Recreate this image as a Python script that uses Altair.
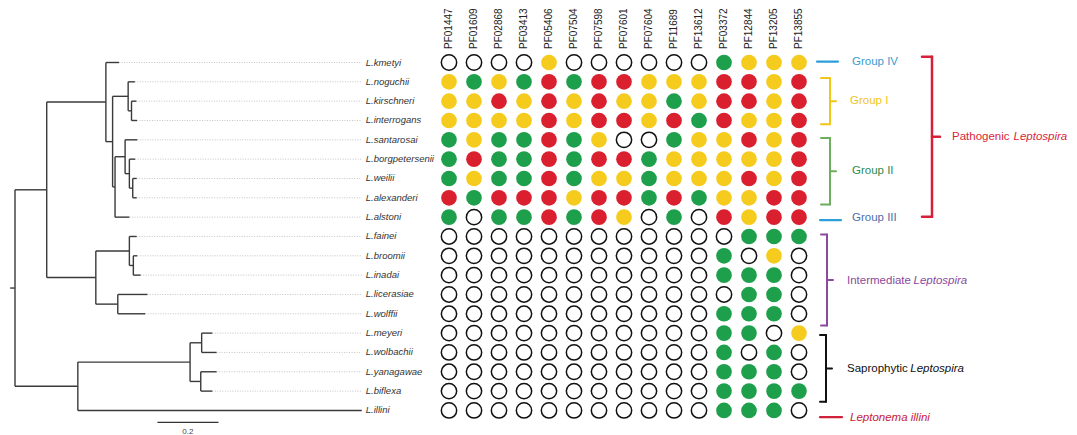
import altair as alt
import pandas as pd

# ---------------- data ----------------
PFAMS = ["PF01447", "PF01609", "PF02868", "PF03413", "PF05406", "PF07504",
         "PF07598", "PF07601", "PF07604", "PF11689", "PF13612", "PF03372",
         "PF12844", "PF13205", "PF13855"]

SPECIES = ["L.kmetyi", "L.noguchii", "L.kirschneri", "L.interrogans",
           "L.santarosai", "L.borgpetersenii", "L.weilii", "L.alexanderi",
           "L.alstoni", "L.fainei", "L.broomii", "L.inadai", "L.licerasiae",
           "L.wolffii", "L.meyeri", "L.wolbachii", "L.yanagawae", "L.biflexa",
           "L.illini"]

# one string per species, one letter per Pfam column
# Y = yellow, G = green, R = red, W = absent (open circle)
PROFILE = [
    "WWWWYWWWWWWGYYY",
    "YGYGRGRRYYYRRYR",
    "YYRYRYRYYGYRRYR",
    "YYYYRYRRYRGRYYR",
    "GYGGRGYWWGYYRYR",
    "GRGGRGRRGYYYYYR",
    "GYGGRGYYGYYYRYR",
    "RGRRRYRRGRGYYRR",
    "GWGGRGRYWGWRYRR",
    "WWWWWWWWWWWWGGG",
    "WWWWWWWWWWWGWYW",
    "WWWWWWWWWWWGGGW",
    "WWWWWWWWWWWWGGW",
    "WWWWWWWWWWWGGGW",
    "WWWWWWWWWWWGGWY",
    "WWWWWWWWWWWGWGW",
    "WWWWWWWWWWWGGGW",
    "WWWWWWWWWWWGGGG",
    "WWWWWWWWWWWGGGW",
]

# phylogeny with branch lengths (substitutions / site)
NEWICK = ("(((kmetyi:0.043,((noguchii:0.022,(kirschneri:0.016,interrogans:0.018):0.011):0.051,"
          "((santarosai:0.040,(borgpetersenii:0.019,(weilii:0.013,alexanderi:0.013):0.011):0.014):0.033,"
          "alstoni:0.047):0.008):0.022):0.194,"
          "((fainei:0.024,(broomii:0.013,inadai:0.024):0.013):0.110,"
          "(licerasiae:0.097,wolffii:0.090):0.072):0.161):0.104,"
          "(((meyeri:0.035,wolbachii:0.049):0.038,(yanagawae:0.052,biflexa:0.038):0.035):0.368,"
          "illini:0.931):0.206);")
ROOT_STEM = 0.016
SCALE_BAR = 0.2

STATE_CODES = ["Y", "G", "R"]
STATE_COLORS = ["#F5CB1D", "#1E9F4B", "#DA1F2F"]

# ---------------- tree layout ----------------
def parse_newick(s):
    pos = 0

    def node():
        nonlocal pos
        kids = []
        if s[pos] == "(":
            pos += 1
            kids.append(node())
            while s[pos] == ",":
                pos += 1
                kids.append(node())
            pos += 1
        start = pos
        while s[pos] not in ":,);":
            pos += 1
        name = s[start:pos]
        length = 0.0
        if s[pos] == ":":
            pos += 1
            start = pos
            while s[pos] not in ",);":
                pos += 1
            length = float(s[start:pos])
        return {"name": name, "len": length, "kids": kids}

    return node()


tree = parse_newick(NEWICK)
segs, tips = [], []


def layout(n, x0):
    x = x0 + n["len"]
    if not n["kids"]:
        y = float(len(tips))
        tips.append((n["name"], x, y))
    else:
        ys = [layout(k, x) for k in n["kids"]]
        y = (ys[0] + ys[-1]) / 2
        segs.append(dict(x=x, x2=x, y=ys[0], y2=ys[-1]))
    segs.append(dict(x=x0, x2=x, y=y, y2=y))
    return y


root_y = layout(tree, 0.0)
segs.append(dict(x=-ROOT_STEM, x2=0.0, y=root_y, y2=root_y))
seg_df = pd.DataFrame(segs)

label_end = max(t[1] for t in tips)
dot_df = pd.DataFrame([dict(x=t[1], x2=label_end, y=t[2]) for t in tips
                       if label_end - t[1] > 1e-6])
lab_df = pd.DataFrame({"name": SPECIES, "row": list(range(len(SPECIES))),
                       "x": [label_end] * len(SPECIES)})

sb_df = pd.DataFrame({"x": [0.467], "x2": [0.467 + SCALE_BAR], "y": [18.62],
                      "tx": [0.467 + SCALE_BAR / 2], "ty": [19.12],
                      "t": [str(SCALE_BAR)]})

# matrix table
mat = []
for i, (sp, prof) in enumerate(zip(SPECIES, PROFILE)):
    for pf, c in zip(PFAMS, prof):
        mat.append(dict(species=sp, row=i, pfam=pf, code=c))
mat_df = pd.DataFrame(mat)

# ---------------- scales ----------------
Y0, DY = 62.5, 19.33
H, W = 435, 1077
ys = alt.Scale(domain=[-Y0 / DY, (H - Y0) / DY], range=[0, H], nice=False, zero=False)
PX0, PXU = 15.0, 305.0
tree_x = alt.Scale(domain=[-PX0 / PXU, (W - PX0) / PXU], nice=False, zero=False)
mx = alt.Scale(type="point", domain=PFAMS, range=[449, 799], padding=0)
pxs = alt.Scale(domain=[0, W], nice=False, zero=False)

FONT = "Liberation Sans"

# ---------------- layers ----------------
tree_lines = alt.Chart(seg_df).mark_rule(color="#3a3a3a", strokeWidth=1.4).encode(
    x=alt.X("x:Q", scale=tree_x, axis=None), x2="x2:Q",
    y=alt.Y("y:Q", scale=ys, axis=None), y2="y2:Q")

guides = alt.Chart(dot_df).mark_rule(color="#b5b5b5", strokeWidth=0.8,
                                      strokeDash=[1, 1.5]).encode(
    x=alt.X("x:Q", scale=tree_x, axis=None), x2="x2:Q",
    y=alt.Y("y:Q", scale=ys, axis=None))

labels = alt.Chart(lab_df).mark_text(align="left", baseline="middle", dx=4,
                                     font=FONT, fontSize=9.5, fontStyle="italic",
                                     color="#333333").encode(
    x=alt.X("x:Q", scale=tree_x, axis=None),
    y=alt.Y("row:Q", scale=ys, axis=None), text="name:N")

scalebar = alt.Chart(sb_df).mark_rule(color="#333333", strokeWidth=1.2).encode(
    x=alt.X("x:Q", scale=tree_x, axis=None), x2="x2:Q",
    y=alt.Y("y:Q", scale=ys, axis=None))
scalebar_t = alt.Chart(sb_df).mark_text(font=FONT, fontSize=8, color="#444444",
                                        baseline="middle").encode(
    x=alt.X("tx:Q", scale=tree_x, axis=None),
    y=alt.Y("ty:Q", scale=ys, axis=None), text="t:N")

filled = alt.Chart(mat_df).transform_filter("datum.code != 'W'").mark_circle(
    size=245, opacity=1).encode(
    x=alt.X("pfam:N", scale=mx, axis=None),
    y=alt.Y("row:Q", scale=ys, axis=None),
    color=alt.Color("code:N", scale=alt.Scale(domain=STATE_CODES, range=STATE_COLORS),
                    legend=None))

hollow = alt.Chart(mat_df).transform_filter("datum.code == 'W'").mark_point(
    shape="circle", filled=False, size=235, color="#111111", strokeWidth=1.5,
    opacity=1).encode(
    x=alt.X("pfam:N", scale=mx, axis=None),
    y=alt.Y("row:Q", scale=ys, axis=None))

headers = alt.Chart(pd.DataFrame({"pfam": PFAMS})).mark_text(
    angle=270, align="left", baseline="middle", font=FONT, fontSize=10,
    color="#222222").encode(
    x=alt.X("pfam:N", scale=mx, axis=None), y=alt.value(49), text="pfam:N")

# ---------------- annotations ----------------
def segs_chart(rows, color, width):
    df = pd.DataFrame(rows, columns=["x", "x2", "y", "y2"])
    return alt.Chart(df).mark_rule(color=color, strokeWidth=width, strokeCap="round").encode(
        x=alt.X("x:Q", scale=pxs, axis=None), x2="x2:Q",
        y=alt.Y("y:Q", scale=ys, axis=None), y2="y2:Q")


def brace(x0, x1, tip, top, bot, color, width=2.0):
    mid = (top + bot) / 2
    return segs_chart([[x0, x1, top, top], [x1, x1, top, bot], [x0, x1, bot, bot],
                       [x1, tip, mid, mid]], color, width)


def dash(x0, x1, row, color, width=2.2):
    return segs_chart([[x0, x1, row, row]], color, width)


def label(parts, x, row, color, size=11.5):
    layers = []
    for txt, dxp, italic in parts:
        df = pd.DataFrame({"x": [x + dxp], "y": [row], "t": [txt]})
        layers.append(alt.Chart(df).mark_text(
            align="left", baseline="middle", font=FONT, fontSize=size,
            fontStyle="italic" if italic else "normal", color=color).encode(
            x=alt.X("x:Q", scale=pxs, axis=None),
            y=alt.Y("y:Q", scale=ys, axis=None), text="t:N"))
    return layers


BLUE = "#2D9FD8"
ann = []
ann.append(dash(817, 838, -0.05, BLUE))
ann += label([("Group IV", 0, False)], 852, -0.05, "#3A9AD0")
ann.append(brace(821, 830, 836, 0.8, 3.2, "#F2C619"))
ann += label([("Group I", 0, False)], 850, 2.0, "#F0C420")
ann.append(brace(821, 830, 836, 3.9, 7.35, "#6DAE5C"))
ann += label([("Group II", 0, False)], 852, 5.6, "#2E8B50")
ann.append(dash(820, 841, 8.15, BLUE))
ann += label([("Group III", 0, False)], 852, 8.05, "#4A6FA8")
ann.append(brace(922, 932, 940, -0.3, 7.98, "#D81F3A", 2.5))
ann += label([("Pathogenic ", 0, False), ("Leptospira", 61.5, True)], 952, 3.85, "#D81F3A")
ann.append(brace(821, 827, 833, 8.9, 13.6, "#8B4A9C"))
ann += label([("Intermediate ", 0, False), ("Leptospira", 66.5, True)], 847, 11.3, "#8B4A9C")
ann.append(brace(820, 826, 832, 14.1, 17.55, "#111111"))
ann += label([("Saprophytic ", 0, False), ("Leptospira", 63.3, True)], 847, 15.85, "#111111")
ann.append(dash(820, 842, 18.35, "#D0203A"))
ann += label([("Leptonema illini", 0, True)], 850, 18.37, "#C8203A")

chart = alt.layer(
    guides, tree_lines, labels, scalebar, scalebar_t,
    hollow, filled, headers, *ann
).resolve_scale(x="independent").properties(
    width=W, height=H, padding=0, autosize=alt.AutoSizeParams(type="none"),
    background="white"
).configure_view(stroke=None)

chart.save("out.html", embed_options={"renderer": "svg", "actions": False})
